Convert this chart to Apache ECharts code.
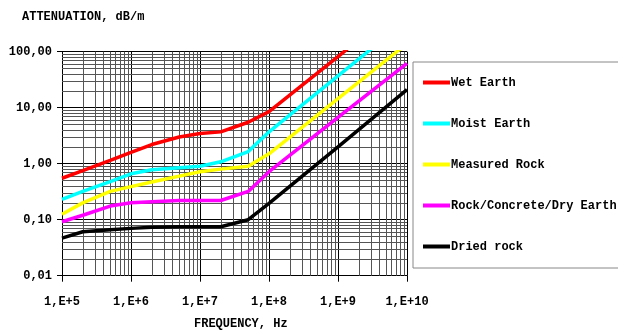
<!DOCTYPE html>
<html><head><meta charset="utf-8">
<script src="https://cdn.jsdelivr.net/npm/echarts@6/dist/echarts.min.js"></script>
<style>html,body{margin:0;padding:0;background:#fff}#c{width:618px;height:331px}</style>
</head><body><div id="c"></div>
<script>
var freqs = [1e5, 2e5, 5e5, 1e6, 2e6, 5e6, 1e7, 2e7, 5e7, 1e8, 1e9, 1e10];
var wetEarth   = [0.55, 0.75, 1.15, 1.6, 2.2, 3.0, 3.45, 3.7, 5.5, 8.5, 82, 800];
var moistEarth = [0.23, 0.32, 0.48, 0.66, 0.78, 0.85, 0.9, 1.08, 1.65, 3.7, 37, 370];
var measuredRock = [0.125, 0.2, 0.32, 0.39, 0.47, 0.6, 0.72, 0.8, 0.9, 1.5, 14.5, 140];
var rockConcrete = [0.092, 0.12, 0.175, 0.2, 0.21, 0.22, 0.22, 0.22, 0.32, 0.72, 6.7, 62];
var driedRock  = [0.047, 0.061, 0.066, 0.07, 0.073, 0.075, 0.075, 0.075, 0.10, 0.195, 2.0, 21];
var seriesNames = ['Wet Earth', 'Moist Earth', 'Measured Rock', 'Rock/Concrete/Dry Earth', 'Dried rock'];
var seriesColors = ['#ff0000', '#00ffff', '#ffff00', '#ff00ff', '#000000'];
var xTickLabels = ['1,E+5', '1,E+6', '1,E+7', '1,E+8', '1,E+9', '1,E+10'];
var yTickLabels = ['0,01', '0,10', '1,00', '10,00', '100,00'];

var allSeries = [wetEarth, moistEarth, measuredRock, rockConcrete, driedRock];
var FONT = '"Liberation Mono", "DejaVu Sans Mono", monospace';

// minor grid (2..9 per decade)
var minorX = [], minorY = [];
for (var e = 5; e < 10; e++) for (var k = 2; k <= 9; k++) minorX.push({xAxis: k * Math.pow(10, e)});
for (var e2 = -2; e2 < 2; e2++) for (var k2 = 2; k2 <= 9; k2++) minorY.push({yAxis: k2 * Math.pow(10, e2)});

var series = [{
  type: 'line', name: '_grid', data: [], silent: true, legendHoverLink: false,
  markLine: { silent: true, symbol: 'none', animation: false, label: {show: false},
    lineStyle: {color: '#555', width: 1, type: 'solid'},
    data: minorX.concat(minorY) }
}];
allSeries.forEach(function (vals, i) {
  series.push({
    type: 'line', name: seriesNames[i], showSymbol: false, symbol: 'none', clip: true,
    lineStyle: {color: seriesColors[i], width: 3.5}, itemStyle: {color: seriesColors[i]},
    data: freqs.map(function (f, j) { return [f, vals[j]]; }),
    animation: false, z: 5
  });
});

var chart = echarts.init(document.getElementById('c'));
chart.setOption({
  animation: false,
  backgroundColor: '#fff',
  grid: {left: 62, right: 211, top: 51.7, bottom: 55.3, containLabel: false},
  xAxis: {
    type: 'log', logBase: 10, min: 1e5, max: 1e10, splitNumber: 5,
    axisLine: {show: true, lineStyle: {color: '#000', width: 1}},
    axisTick: {show: true, length: 6, lineStyle: {color: '#000'}},
    axisLabel: {margin: 20, color: '#000', fontFamily: FONT, fontSize: 12, fontWeight: 'bold',
      formatter: function (v) { return xTickLabels[Math.round(Math.log10(v)) - 5]; }},
    splitLine: {show: true, lineStyle: {color: '#000', width: 1}},
    minorSplitLine: {show: false}
  },
  yAxis: {
    type: 'log', logBase: 10, min: 0.01, max: 100, splitNumber: 4,
    axisLine: {show: true, lineStyle: {color: '#000', width: 1}},
    axisTick: {show: true, length: 5, lineStyle: {color: '#000'}},
    axisLabel: {margin: 10, color: '#000', fontFamily: FONT, fontSize: 12, fontWeight: 'bold',
      formatter: function (v) { return yTickLabels[Math.round(Math.log10(v)) + 2]; }},
    splitLine: {show: true, lineStyle: {color: '#000', width: 1}}
  },
  legend: {
    data: seriesNames, orient: 'vertical', left: 413, top: 62,
    padding: [13, 40, 14, 10], itemGap: 26, itemWidth: 27, itemHeight: 4, icon: 'rect',
    borderColor: '#888', borderWidth: 1, backgroundColor: '#fff',
    textStyle: {fontFamily: FONT, fontSize: 12, fontWeight: 'bold', color: '#000', lineHeight: 15, padding: [0, 0, 0, -4]},
    selectedMode: false
  },
  graphic: [
    {type: 'text', left: 22, top: 11, style: {text: 'ATTENUATION, dB/m', font: 'bold 12px ' + FONT, fill: '#000'}},
    {type: 'text', left: 194, top: 318, style: {text: 'FREQUENCY, Hz', font: 'bold 12px ' + FONT, fill: '#000'}}
  ],
  series: series
});
</script></body></html>
